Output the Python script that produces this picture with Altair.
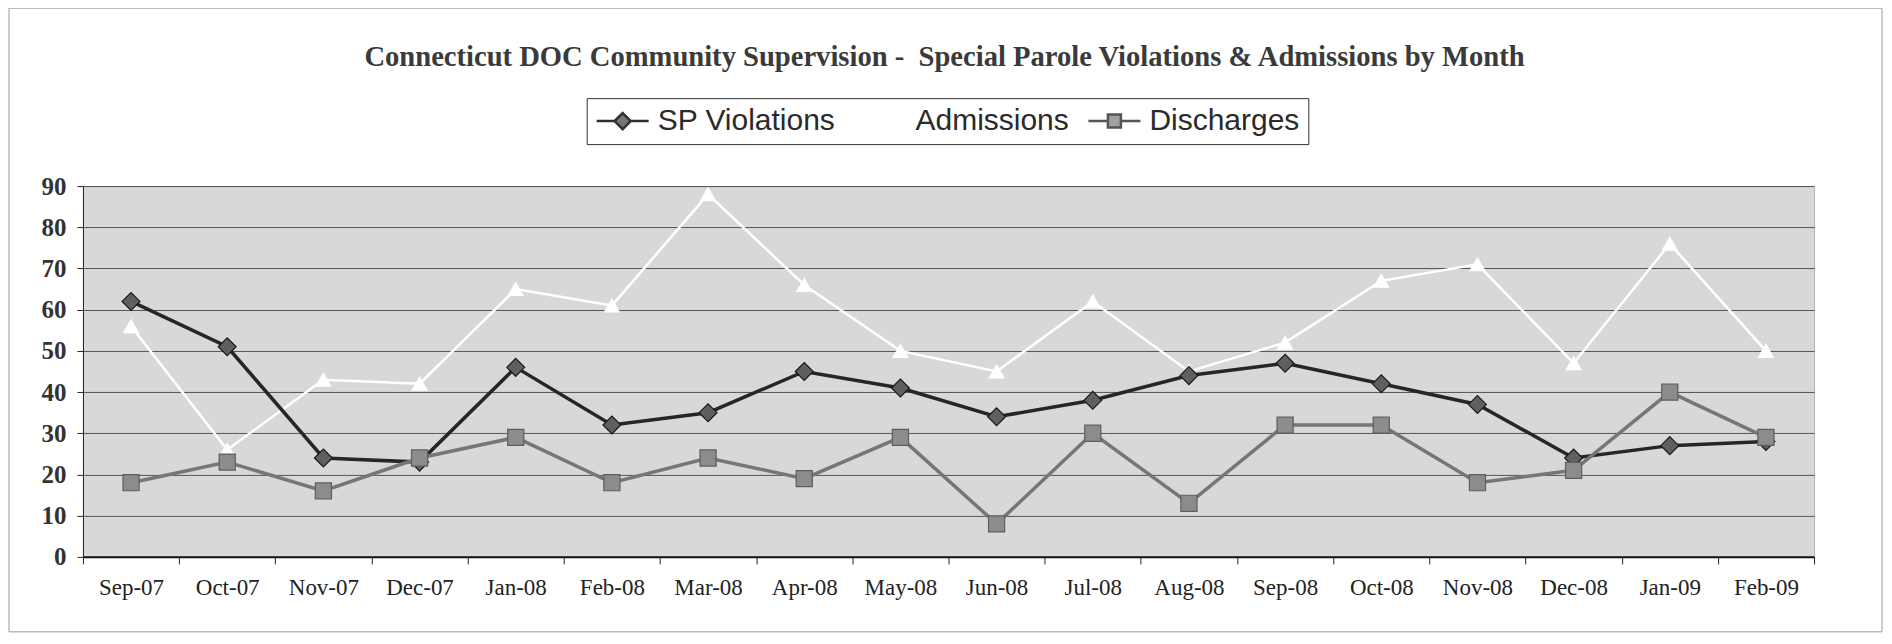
import altair as alt
import pandas as pd

months = ["Sep-07", "Oct-07", "Nov-07", "Dec-07", "Jan-08", "Feb-08", "Mar-08", "Apr-08", "May-08",
          "Jun-08", "Jul-08", "Aug-08", "Sep-08", "Oct-08", "Nov-08", "Dec-08", "Jan-09", "Feb-09"]
sp_violations = [62, 51, 24, 23, 46, 32, 35, 45, 41, 34, 38, 44, 47, 42, 37, 24, 27, 28]
admissions = [56, 26, 43, 42, 65, 61, 88, 66, 50, 45, 62, 45, 52, 67, 71, 47, 76, 50]
discharges = [18, 23, 16, 24, 29, 18, 24, 19, 29, 8, 30, 13, 32, 32, 18, 21, 40, 29]
series_names = ["SP Violations", "Admissions", "Discharges"]
y_ticks = [0, 10, 20, 30, 40, 50, 60, 70, 80, 90]

rows = []
for name, vals in zip(series_names, [sp_violations, admissions, discharges]):
    for m, v in zip(months, vals):
        rows.append({"month": m, "value": v, "series": name})
df = pd.DataFrame(rows)

W, H = 1732, 371

styles = {
    "SP Violations": dict(line="#262626", lw=3.5, shape="diamond", fill="#5f5f5f", stroke="#1a1a1a", size=320),
    "Admissions": dict(line="#ffffff", lw=2.5, shape="triangle-up", fill="#ffffff", stroke="#ffffff", size=220),
    "Discharges": dict(line="#767676", lw=3.5, shape="square", fill="#8c8c8c", stroke="#5e5e5e", size=260),
}

x_enc = alt.X("month:N", sort=months,
              scale=alt.Scale(type="band", paddingInner=0, paddingOuter=0),
              axis=alt.Axis(title=None, labelAngle=0, tickBand="extent", grid=False,
                            domainColor="#111111", domainWidth=2, tickColor="#222222",
                            tickSize=7, tickWidth=1, labelFont="Liberation Serif",
                            labelFontSize=23, labelColor="#222222", labelPadding=13))
y_enc = alt.Y("value:Q", scale=alt.Scale(domain=[0, 90], nice=False, zero=True),
              axis=alt.Axis(title=None, values=y_ticks, grid=True, gridColor="#555555",
                            gridWidth=1, domainColor="#222222", tickColor="#222222",
                            tickSize=6, labelFont="Liberation Serif", labelFontSize=25,
                            labelFontWeight="bold", labelColor="#333333", labelPadding=11))

base = alt.Chart(df).encode(x=x_enc, y=y_enc)

layers = []
for name in ["Admissions", "SP Violations", "Discharges"]:
    s = styles[name]
    sub = base.transform_filter(alt.datum.series == name)
    layers.append(sub.mark_line(color=s["line"], strokeWidth=s["lw"]))
    layers.append(sub.mark_point(shape=s["shape"], filled=True, fill=s["fill"], stroke=s["stroke"],
                                 strokeWidth=1.2, size=s["size"], opacity=1))

# legend-only layer (no marks drawn), symbols = line with marker
legend_paths = [
    "M-1,0L0.38,0M1.62,0L3,0M1,-0.62L1.62,0L1,0.62L0.38,0Z",
    "M-1,0L0.4,0M1.6,0L3,0M1,-0.6L1.6,0.5L0.4,0.5Z",
    "M-1,0L0.5,0M1.5,0L3,0M0.5,-0.5L1.5,-0.5L1.5,0.5L0.5,0.5Z",
]
leg = alt.Legend(title=None, orient="none", legendX=504, legendY=-88, direction="horizontal",
                 strokeColor="#333333", fillColor="#ffffff", padding=8,
                 labelFont="Liberation Sans", labelFontSize=30, labelColor="#2a2a2a",
                 labelLimit=500, labelOffset=33, columnPadding=14,
                 symbolSize=676, symbolStrokeWidth=2.5)
legend_layer = base.transform_filter("false").mark_point(filled=True, opacity=1).encode(
    shape=alt.Shape("series:N", scale=alt.Scale(domain=series_names, range=legend_paths), legend=leg),
    fill=alt.Fill("series:N", scale=alt.Scale(domain=series_names, range=["#777777", "#ffffff", "#a0a0a0"]), legend=leg),
    stroke=alt.Stroke("series:N", scale=alt.Scale(domain=series_names, range=["#303030", "#ffffff", "#555555"]), legend=leg),
)

frame = alt.Chart(pd.DataFrame({"f": [0]})).mark_rect(filled=False, stroke="#9a9a9a", strokeWidth=1).encode(
    x=alt.value(-74), x2=alt.value(1800), y=alt.value(-178), y2=alt.value(446))

chart = alt.layer(frame, *layers, legend_layer).properties(
    width=W, height=H,
    title=alt.TitleParams(
        text="Connecticut DOC Community Supervision -\u00a0 Special Parole Violations & Admissions by Month",
        font="Liberation Serif", fontSize=28.6, fontWeight="bold", color="#3a3a3a",
        anchor="middle", offset=-64, dx=-4),
    padding={"left": 75, "top": 178, "right": 70, "bottom": 77},
    autosize=alt.AutoSizeParams(type="none"),
).configure(background="#ffffff").configure_view(fill="#d8d8d8", stroke="#b5b5b5")

chart.save("out.html", embed_options={"renderer": "svg", "actions": False})
